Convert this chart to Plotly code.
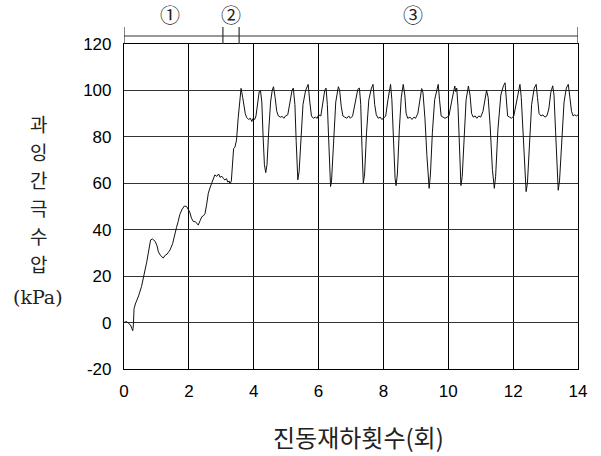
import plotly.graph_objects as go

# ---- data ----
cycles = [
    0.00, 0.08, 0.15, 0.20, 0.24, 0.27, 0.29, 0.31, 0.35, 0.39, 0.45, 0.54, 0.60, 0.65, 0.70, 0.75,
    0.82, 0.88, 0.96, 1.02, 1.06, 1.12, 1.21, 1.27, 1.33, 1.38, 1.42, 1.50, 1.57, 1.62, 1.67, 1.72,
    1.78, 1.86, 1.93, 1.98, 2.03, 2.08, 2.14, 2.20, 2.25, 2.29, 2.35, 2.40, 2.45, 2.50, 2.55, 2.60,
    2.65, 2.70, 2.75, 2.80, 2.86, 2.92, 2.96, 3.02, 3.07, 3.11, 3.16, 3.20, 3.24, 3.27, 3.31, 3.36,
    3.38, 3.42, 3.47, 3.52, 3.57, 3.61, 3.66, 3.70, 3.74, 3.78, 3.84, 3.90, 3.94, 3.98, 4.03, 4.07,
    4.12, 4.17, 4.21, 4.25, 4.29, 4.33, 4.37, 4.41, 4.46, 4.52, 4.57, 4.61, 4.66, 4.71, 4.76, 4.82,
    4.88, 4.93, 4.98, 5.05, 5.12, 5.18, 5.22, 5.27, 5.31, 5.36, 5.40, 5.46, 5.52, 5.60, 5.68, 5.73,
    5.78, 5.84, 5.90, 5.96, 6.00, 6.07, 6.13, 6.19, 6.23, 6.27, 6.32, 6.37, 6.40, 6.46, 6.53, 6.61,
    6.65, 6.70, 6.75, 6.81, 6.87, 6.93, 6.98, 7.05, 7.13, 7.21, 7.26, 7.30, 7.34, 7.38, 7.42, 7.48,
    7.55, 7.63, 7.68, 7.73, 7.78, 7.84, 7.90, 7.95, 8.00, 8.07, 8.14, 8.19, 8.22, 8.26, 8.31, 8.36,
    8.39, 8.43, 8.49, 8.55, 8.61, 8.66, 8.70, 8.75, 8.82, 8.88, 8.94, 8.99, 9.06, 9.12, 9.18, 9.22,
    9.28, 9.34, 9.41, 9.45, 9.51, 9.58, 9.65, 9.69, 9.73, 9.78, 9.84, 9.90, 9.96, 10.02, 10.10, 10.17,
    10.20, 10.23, 10.26, 10.30, 10.35, 10.39, 10.43, 10.49, 10.55, 10.62, 10.67, 10.72, 10.77, 10.83,
    10.88, 10.94, 11.00, 11.07, 11.14, 11.18, 11.23, 11.29, 11.36, 11.42, 11.46, 11.53, 11.62, 11.70,
    11.75, 11.79, 11.83, 11.89, 11.95, 12.02, 12.09, 12.16, 12.21, 12.25, 12.30, 12.36, 12.40, 12.44,
    12.50, 12.57, 12.65, 12.71, 12.75, 12.80, 12.86, 12.92, 12.98, 13.04, 13.10, 13.16, 13.22, 13.26,
    13.31, 13.36, 13.39, 13.43, 13.50, 13.57, 13.64, 13.70, 13.75, 13.80, 13.85, 13.90, 13.95, 14.00,
]
pore_pressure = [
    0.0, 0.5, -0.5, -1.0, -2.5, -3.5, -1.0, 6.0, 8.0, 9.3, 11.5, 15.5, 19.0, 22.6, 26.0, 30.0,
    35.6, 36.0, 35.0, 33.0, 30.5, 29.0, 27.8, 29.0, 29.5, 30.5, 31.3, 34.0, 39.0, 41.0, 43.5, 46.5,
    48.5, 50.2, 50.0, 49.0, 47.5, 45.0, 43.5, 43.5, 42.5, 42.0, 44.0, 45.6, 46.0, 47.0, 51.0, 55.7,
    58.0, 60.0, 62.5, 63.6, 63.0, 64.0, 62.6, 63.0, 62.0, 61.4, 62.0, 60.5, 61.0, 59.7, 61.0, 73.0,
    75.0, 75.5, 78.6, 88.0, 97.0, 100.9, 97.0, 93.0, 90.0, 88.4, 87.5, 88.0, 86.6, 88.0, 87.5, 89.0,
    95.0, 99.5, 99.8, 95.0, 80.0, 68.0, 64.6, 68.0, 82.0, 95.0, 100.0, 101.6, 97.0, 91.0, 89.0, 88.5,
    88.8, 88.0, 89.0, 89.5, 95.0, 100.0, 101.0, 94.0, 78.0, 61.5, 65.0, 82.0, 94.0, 100.0, 102.6, 95.0,
    89.0, 88.0, 88.5, 88.0, 89.5, 89.0, 95.0, 100.0, 101.0, 94.0, 76.0, 58.6, 61.0, 80.0, 95.0, 101.6,
    100.0, 93.0, 89.0, 88.5, 88.0, 89.0, 88.0, 89.0, 95.0, 100.5, 101.0, 94.0, 75.0, 60.0, 64.0, 82.0,
    96.0, 101.0, 102.6, 94.0, 89.5, 88.0, 88.5, 87.5, 88.0, 89.0, 96.0, 101.0, 102.6, 96.0, 78.0, 62.0,
    59.0, 64.0, 83.0, 97.0, 102.6, 98.0, 90.0, 88.0, 88.5, 87.5, 88.5, 88.0, 90.0, 96.0, 100.8, 99.0,
    88.0, 72.0, 57.8, 64.0, 82.0, 96.0, 101.0, 102.6, 96.0, 89.0, 88.5, 88.0, 88.5, 89.0, 95.0, 101.0,
    101.9, 99.5, 101.0, 93.0, 72.0, 59.0, 63.0, 82.0, 96.0, 101.9, 98.0, 90.0, 88.5, 89.0,
    88.0, 89.0, 88.5, 91.0, 98.0, 100.0, 97.0, 85.0, 66.0, 57.8, 63.0, 83.0, 98.0, 102.0,
    103.3, 96.0, 89.0, 88.5, 88.0, 89.0, 94.0, 100.0, 102.6, 97.0, 82.0, 64.0, 56.4, 60.0,
    78.0, 94.0, 101.0, 102.6, 97.0, 90.0, 89.0, 89.5, 88.5, 89.0, 92.0, 99.0, 102.0, 98.0,
    82.0, 64.0, 57.0, 61.0, 80.0, 95.0, 101.0, 102.6, 97.0, 91.0, 89.0, 89.5, 89.0, 89.5,
]
x_ticks = [0, 2, 4, 6, 8, 10, 12, 14]
y_ticks = [-20, 0, 20, 40, 60, 80, 100, 120]
stage_bounds = [0, 3.05, 3.55, 14]
stage_labels = ["①", "②", "③"]
stage_label_x = [1.42, 3.3, 8.9]
x_title = "진동재하횟수(회)"
y_title_chars = ["과", "잉", "간", "극", "수", "압"]
y_title_unit = "(kPa)"

# ---- layout constants ----
W, H = 601, 456
ML, MR, MT, MB = 124, 23, 27, 87
plot_h = H - MT - MB           # 342
main_h = 325
split = main_h / plot_h

fig = go.Figure()
fig.add_trace(go.Scatter(
    x=cycles, y=pore_pressure, mode="lines",
    line=dict(color="#111111", width=1), showlegend=False, hoverinfo="skip",
))

# stage bar above the plot (own axis pair)
bx, by = [stage_bounds[0], stage_bounds[-1], None], [0.47, 0.47, None]
for b in stage_bounds:
    lo = -0.15 if b not in (stage_bounds[0], stage_bounds[-1]) else 0
    bx += [b, b, None]
    by += [lo, 1.0, None]
fig.add_trace(go.Scatter(
    x=bx, y=by, xaxis="x2", yaxis="y2", mode="lines",
    line=dict(color="#333333", width=1.2), showlegend=False, hoverinfo="skip",
    cliponaxis=False,
))

tick_font = dict(family="Liberation Sans, Arial, sans-serif", size=17, color="black")

fig.update_layout(
    width=W, height=H,
    margin=dict(l=ML, r=MR, t=MT, b=MB),
    paper_bgcolor="white", plot_bgcolor="white",
    xaxis=dict(
        range=[0, 14], tickvals=x_ticks, ticktext=[str(v) for v in x_ticks],
        showgrid=True, gridcolor="black", gridwidth=1.2,
        showline=True, linecolor="black", linewidth=1.2, mirror=True,
        zeroline=False, ticks="", ticklabelstandoff=6, tickfont=tick_font,
        anchor="y",
    ),
    yaxis=dict(
        range=[-20, 120], tickvals=y_ticks, ticktext=[str(v) for v in y_ticks],
        domain=[0, split],
        showgrid=True, gridcolor="#333333", gridwidth=1.2,
        showline=True, linecolor="black", linewidth=1.2, mirror=True,
        zeroline=False, ticks="", ticklabelstandoff=8, tickfont=tick_font,
    ),
    xaxis2=dict(range=[0, 14], matches="x", anchor="y2", visible=False, showgrid=False),
    yaxis2=dict(range=[0, 1], domain=[split, 1], anchor="x2", visible=False, showgrid=False),
)

annotations = []
for lab, lx in zip(stage_labels, stage_label_x):
    annotations.append(dict(
        text=lab, x=lx, xref="x", y=1 + 13 / plot_h, yref="paper",
        showarrow=False, xanchor="center", yanchor="middle",
        font=dict(family="Noto Sans CJK KR", size=20, color="#222222"),
    ))

annotations.append(dict(
    text=x_title, x=(358 - ML) / (W - ML - MR), xref="paper",
    y=-(437 - (H - MB)) / plot_h, yref="paper",
    showarrow=False, xanchor="center", yanchor="middle",
    font=dict(family="Noto Sans CJK KR", size=24, color="#222222"),
))

ytitle_x = (38 - ML) / (W - ML - MR)
char_py = [123, 151.5, 180, 207, 235, 263]
for ch, py in zip(y_title_chars, char_py):
    annotations.append(dict(
        text=ch, x=ytitle_x, xref="paper",
        y=(H - MB - py) / plot_h, yref="paper",
        showarrow=False, xanchor="center", yanchor="middle",
        font=dict(family="Noto Sans CJK KR", size=19, color="#222222"),
    ))
annotations.append(dict(
    text=y_title_unit, x=ytitle_x, xref="paper",
    y=(H - MB - 297) / plot_h, yref="paper",
    showarrow=False, xanchor="center", yanchor="middle",
    font=dict(family="DejaVu Serif", size=19, color="#222222"),
))
fig.update_layout(annotations=annotations)

fig.write_html(
    "out.html",
    config={"displayModeBar": False},
    post_script="document.body.style.margin='0';",
)
